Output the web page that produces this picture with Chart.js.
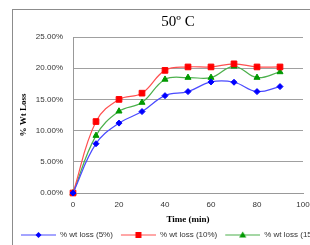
<!DOCTYPE html>
<html lang="en">
<head>
<meta charset="UTF-8">
<title>50º C - % Wt Loss</title>
<script src="https://cdn.jsdelivr.net/npm/chart.js"></script>
<style>
  html, body { margin: 0; padding: 0; background: #fff; overflow: hidden; width: 310px; height: 245px; }
  .frame { position: absolute; left: 12px; top: 9px; width: 340px; height: 250px; border: 1px solid #8c8c8c; }
  canvas { display: block; }
</style>
</head>
<body>
<div class="frame"><canvas id="wtChart" width="330" height="245"></canvas></div>
<script>
// values (x = minutes, y = % weight loss)
const times = [0, 10, 20, 30, 40, 50, 60, 70, 80, 90];
const loss5 = [0, 7.9, 11.2, 13.05, 15.6, 16.25, 17.8, 17.75, 16.25, 17.05];
const loss10 = [0, 11.45, 15.0, 16.0, 19.65, 20.2, 20.2, 20.7, 20.2, 20.2];
const loss15 = [0, 9.2, 13.1, 14.5, 18.2, 18.5, 18.5, 20.3, 18.5, 19.4];
const seriesNames = ['% wt loss (5%)', '% wt loss (10%)', '% wt loss (15%)'];
const yTicks = [0, 5, 10, 15, 20, 25];

const tickFont = { family: 'Liberation Sans', size: 8 };
const titleFont = { family: 'Liberation Serif', size: 9, weight: 'bold' };

function toPoints(vals) {
    return vals.map((v, i) => ({ x: times[i], y: v }));
}

// little line + marker picture for each legend entry
function legendSample(lineColor, markColor, shape) {
    const c = document.createElement('canvas');
    c.width = 38; c.height = 10;
    const g = c.getContext('2d');
    g.strokeStyle = lineColor;
    g.lineWidth = 1.2;
    g.beginPath(); g.moveTo(3, 5); g.lineTo(38, 5); g.stroke();
    g.fillStyle = markColor;
    g.beginPath();
    if (shape === 'diamond') {
        g.moveTo(20.5, 2); g.lineTo(23.5, 5); g.lineTo(20.5, 8); g.lineTo(17.5, 5);
    } else if (shape === 'square') {
        g.rect(17.5, 2, 6, 6);
    } else {
        g.moveTo(20.5, 1.5); g.lineTo(24, 7.5); g.lineTo(17, 7.5);
    }
    g.closePath(); g.fill();
    return c;
}
const samples = [
    legendSample('#4a4aff', '#0000ff', 'diamond'),
    legendSample('#ff5050', '#ff0000', 'square'),
    legendSample('#4cb04c', '#009900', 'triangle')
];

const ctx = document.getElementById('wtChart').getContext('2d');
new Chart(ctx, {
    type: 'line',
    data: {
        datasets: [
            {
                label: seriesNames[0], data: toPoints(loss5),
                borderColor: '#4a4aff', borderWidth: 1.2, tension: 0.4,
                pointStyle: 'rectRot', pointRadius: 3,
                pointBackgroundColor: '#0000ff', pointBorderColor: '#0000ff', pointBorderWidth: 1,
                clip: false
            },
            {
                label: seriesNames[1], data: toPoints(loss10),
                borderColor: '#ff5050', borderWidth: 1.2, tension: 0.4,
                pointStyle: 'rect', pointRadius: 4,
                pointBackgroundColor: '#ff0000', pointBorderColor: '#ff0000', pointBorderWidth: 1,
                clip: false
            },
            {
                label: seriesNames[2], data: toPoints(loss15),
                borderColor: '#4cb04c', borderWidth: 1.2, tension: 0.4,
                pointStyle: 'triangle', pointRadius: 3.5,
                pointBackgroundColor: '#009900', pointBorderColor: '#009900', pointBorderWidth: 1,
                clip: false
            }
        ]
    },
    options: {
        responsive: false,
        animation: false,
        layout: { padding: { left: 0, right: 0, top: 0, bottom: 6 } },
        plugins: {
            title: {
                display: true,
                text: '50º C',
                color: '#000',
                font: { family: 'Liberation Serif', size: 15, weight: 'normal' },
                padding: { top: 3, bottom: 6 }
            },
            legend: {
                position: 'bottom',
                align: 'start',
                labels: {
                    usePointStyle: true,
                    pointStyleWidth: 38,
                    boxHeight: 8,
                    padding: 5,
                    color: '#333',
                    font: tickFont,
                    generateLabels(chart) {
                        const items = Chart.defaults.plugins.legend.labels.generateLabels(chart);
                        items.forEach((it, i) => { it.pointStyle = samples[i]; });
                        return items;
                    }
                }
            },
            tooltip: { enabled: false }
        },
        scales: {
            x: {
                type: 'linear',
                min: 0, max: 100,
                grid: { display: false, drawTicks: false },
                border: { display: true, color: '#999' },
                ticks: { stepSize: 20, padding: 7, color: '#333', font: tickFont },
                title: { display: true, text: 'Time (min)', color: '#000', font: titleFont, padding: { top: 0, bottom: 1 } },
                afterFit(scale) { scale.height = 33; }
            },
            y: {
                min: 0, max: 25,
                grid: { color: '#a0a0a0', drawTicks: false },
                border: { display: true, color: '#999' },
                afterBuildTicks(scale) { scale.ticks = yTicks.map(v => ({ value: v })); },
                ticks: {
                    padding: 10, color: '#333', font: tickFont,
                    callback: v => v.toFixed(2) + '%'
                },
                title: { display: true, text: '% Wt Loss', color: '#000', font: titleFont, padding: { top: 5, bottom: 0 } },
                afterFit(scale) { scale.width = 60; }
            },
            // empty strip on the right, keeps the plot narrower than the legend row
            yRight: {
                position: 'right',
                grid: { display: false, drawTicks: false },
                border: { display: false },
                ticks: { display: false },
                afterFit(scale) { scale.width = 40; }
            }
        }
    }
});
</script>
</body>
</html>
